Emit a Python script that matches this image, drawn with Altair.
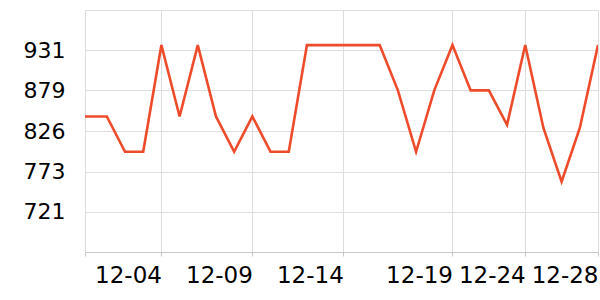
import altair as alt
import pandas as pd

dates = ["2023-11-29", "2023-11-30", "2023-12-01", "2023-12-02", "2023-12-03",
         "2023-12-04", "2023-12-05", "2023-12-06", "2023-12-07", "2023-12-08",
         "2023-12-09", "2023-12-10", "2023-12-11", "2023-12-12", "2023-12-13",
         "2023-12-14", "2023-12-15", "2023-12-16", "2023-12-17", "2023-12-18",
         "2023-12-19", "2023-12-20", "2023-12-21", "2023-12-22", "2023-12-23",
         "2023-12-24", "2023-12-25", "2023-12-26", "2023-12-27", "2023-12-28"]
values = [845, 845, 845, 799, 799, 938, 845, 938, 845, 799, 845, 799, 799, 938, 938,
          938, 938, 938, 879, 799, 879, 938, 879, 879, 834, 938, 830, 760, 830, 938]

x_tick_days = [(11, 29, 19, 12), (12, 4, 0, 0), (12, 9, 0, 0), (12, 14, 0, 0),
               (12, 20, 0, 0), (12, 24, 0, 0), (12, 28, 0, 0)]
x_tick_labels = ["", "12-04", "12-09", "12-14", "12-19", "12-24", "12-28"]
y_tick_values = [721, 773, 826, 879, 931]
y_domain = [668.4, 983.7]

df = pd.DataFrame({"date": [d + "T00:00:00" for d in dates], "value": values})

tick_values = [alt.DateTime(year=2023, month=m, date=d, hours=h, minutes=mi)
               for m, d, h, mi in x_tick_days]
label_map = "{" + ", ".join(
    f"'{m:02d}-{d:02d}': '{l}'" for (m, d, h, mi), l in zip(x_tick_days, x_tick_labels)
) + "}"
label_expr = f"{label_map}[timeFormat(datum.value, '%m-%d')]"

x_domain = [alt.DateTime(year=2023, month=11, date=29, hours=19, minutes=12),
            alt.DateTime(year=2023, month=12, date=28)]

chart = alt.Chart(df).mark_line(color="#ee4b2b", strokeWidth=2.6, clip=True).encode(
    x=alt.X("date:T",
            scale=alt.Scale(domain=x_domain, nice=False),
            axis=alt.Axis(title=None, values=tick_values, labelExpr=label_expr,
                          labelAngle=0, labelAlign="right", labelBaseline="top",
                          labelFontSize=23, labelFont="DejaVu Sans", labelColor="#000",
                          labelPadding=8, tickSize=4, tickColor="#c8c8c8",
                          domainColor="#c8c8c8", grid=True, gridColor="#dddddd",
                          labelOverlap=False, labelBound=False, labelFlush=False)),
    y=alt.Y("value:Q", scale=alt.Scale(domain=y_domain, nice=False, zero=False),
            axis=alt.Axis(title=None, values=y_tick_values, format="d",
                          labelFontSize=22, labelFont="DejaVu Sans", labelColor="#000",
                          ticks=False, domain=False, labelPadding=20,
                          grid=True, gridColor="#dddddd", labelOverlap=False)),
).properties(
    width=513, height=242,
    autosize=alt.AutoSizeParams(type="none"),
    padding={"left": 85, "top": 10, "right": 2, "bottom": 48},
).configure_view(stroke=None).configure(background="white")

chart.save("out.html", embed_options={"renderer": "svg", "actions": False})
